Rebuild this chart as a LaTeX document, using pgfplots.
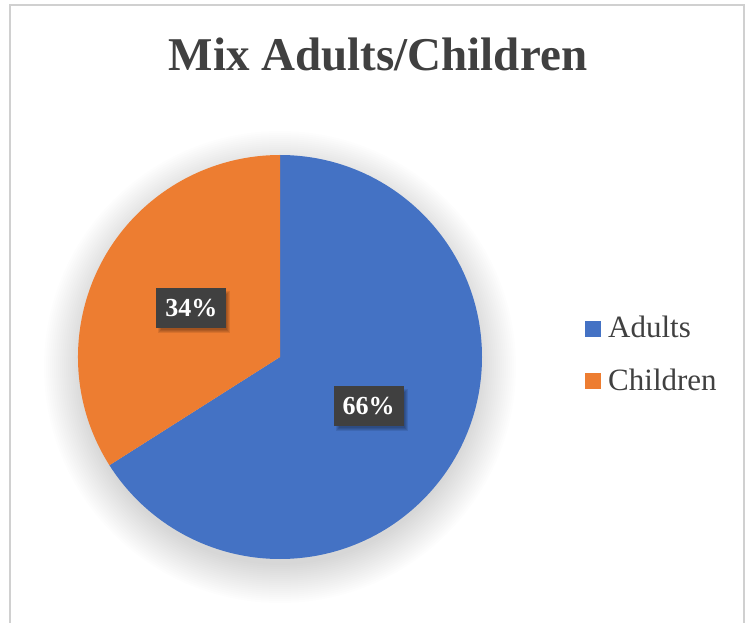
\documentclass[border=0pt]{standalone}
\usepackage{pgfplots}
\pgfplotsset{compat=1.18}
\usepackage{pgfplotstable}
\usepackage{fontspec}
\setmainfont{Liberation Serif}

\definecolor{adultblue}{HTML}{4472C4}
\definecolor{childorange}{HTML}{ED7D31}
\definecolor{textgray}{HTML}{404040}
\definecolor{framegray}{HTML}{D0D0D0}

% share of each group (percent)
\pgfplotstableread{
group value
Adults 66
Children 34
}\piedata

\begin{document}
\begin{tikzpicture}
\pgfplotstablegetelem{0}{value}\of\piedata \let\adults\pgfplotsretval
\pgfplotstablegetelem{1}{value}\of\piedata \let\children\pgfplotsretval
\pgfplotstablegetelem{0}{group}\of\piedata \let\nameA\pgfplotsretval
\pgfplotstablegetelem{1}{group}\of\piedata \let\nameC\pgfplotsretval
% slices start at 12 o'clock and run clockwise
\pgfmathsetmacro{\cut}{90-3.6*\adults}
\pgfmathsetmacro{\midA}{90-1.8*\adults}
\pgfmathsetmacro{\midC}{\cut-1.8*\children}
\useasboundingbox (0,0) rectangle (750pt,622pt);
\begin{axis}[
    x=1pt, y=1pt,
    xmin=0, xmax=750, ymin=0, ymax=622,
    hide axis, scale only axis, clip=false,
    at={(0pt,0pt)}, anchor=south west,
]
    % chart frame
    \draw[framegray, line width=2pt] (axis cs:10,-10) |- (axis cs:744,617) -- (axis cs:744,-10);

    % title
    \node[anchor=base, inner sep=0, text=textgray,
          font=\bfseries\fontsize{47}{56}\selectfont]
        at (axis cs:378,551) {Mix Adults/Children};

    % soft shadow under the pie
    \pgfplotsinvokeforeach{1,...,20}{
        \fill[black, opacity=0.008] (axis cs:280,255) circle[radius={(196+2*#1)*1pt}];
    }

    % slices
    \fill[adultblue] (axis cs:280,265) -- ++(90:202pt)
        arc[start angle=90, end angle=\cut, radius=202pt] -- cycle;
    \fill[childorange] (axis cs:280,265) -- ++(\cut:202pt)
        arc[start angle=\cut, end angle=-270, radius=202pt] -- cycle;

    % soft shadows of the data labels
    \pgfplotsinvokeforeach{0,2,4,6}{
        \path (axis cs:280,265) ++(\midA:101pt) ++(3pt,-4pt)
            node[fill=black, opacity=0.09, minimum width={(66+#1)*1pt},
                 minimum height={(36+#1)*1pt}, inner sep=0] {};
        \path (axis cs:280,265) ++(\midC:101pt) ++(3pt,-4pt)
            node[fill=black, opacity=0.09, minimum width={(66+#1)*1pt},
                 minimum height={(36+#1)*1pt}, inner sep=0] {};
    }
    % data labels
    \path (axis cs:280,265) ++(\midA:101pt)
        node[fill=textgray, text=white, minimum width=70pt, minimum height=40pt, inner sep=0,
             font=\bfseries\fontsize{26}{30}\selectfont] {\adults\%};
    \path (axis cs:280,265) ++(\midC:101pt)
        node[fill=textgray, text=white, minimum width=70pt, minimum height=40pt, inner sep=0,
             font=\bfseries\fontsize{26}{30}\selectfont] {\children\%};

    % legend
    \fill[adultblue] (axis cs:585,285) rectangle (axis cs:601,301);
    \fill[childorange] (axis cs:585,233) rectangle (axis cs:601,249);
    \node[anchor=base west, inner sep=0, text=textgray, font=\fontsize{31}{37}\selectfont]
        at (axis cs:608,284) {\nameA};
    \node[anchor=base west, inner sep=0, text=textgray, font=\fontsize{31}{37}\selectfont]
        at (axis cs:608,231) {\nameC};
\end{axis}
\end{tikzpicture}
\end{document}
